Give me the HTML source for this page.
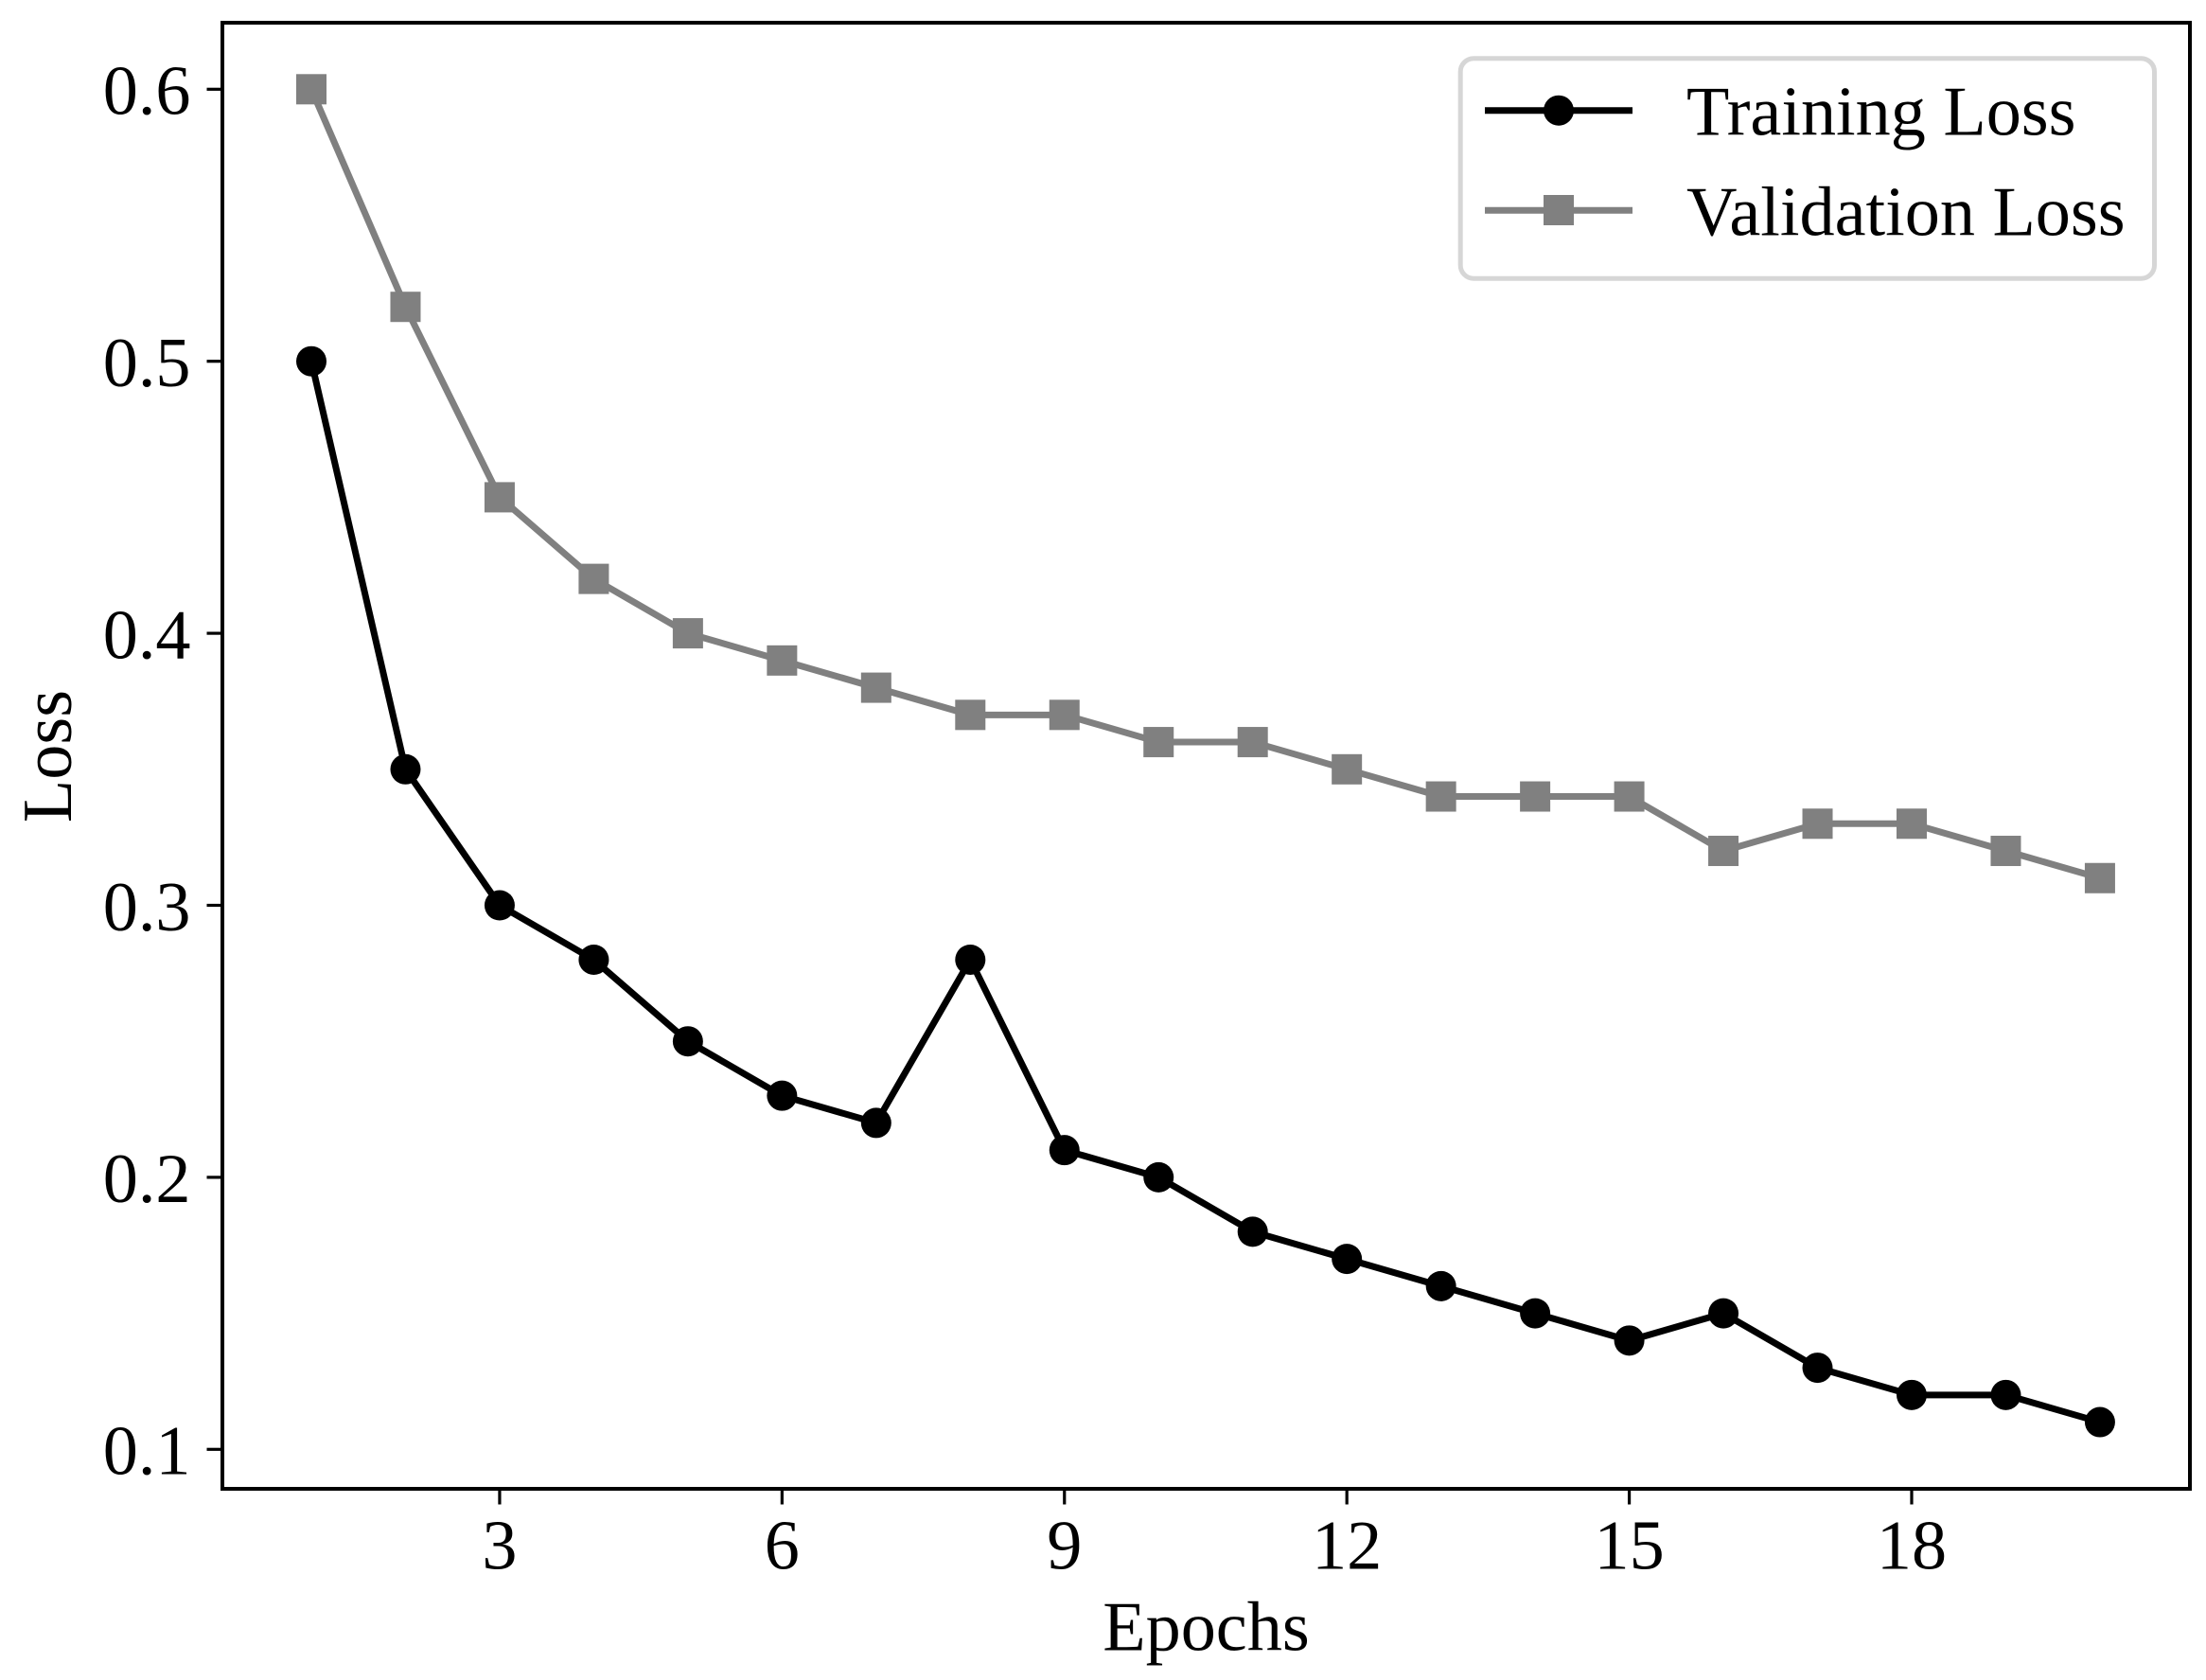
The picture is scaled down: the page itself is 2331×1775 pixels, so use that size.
<!DOCTYPE html>
<html lang="en">
<head>
<meta charset="utf-8">
<title>Training and Validation Loss</title>
<style>
html,body{margin:0;padding:0;background:#fff;}
body{width:2331px;height:1775px;overflow:hidden;}
svg{display:block;}
text{font-family:"Liberation Serif","Times New Roman",serif;font-size:74.2px;fill:#000;}
</style>
</head>
<body>
<svg id="chart" xmlns="http://www.w3.org/2000/svg" width="2331" height="1775" viewBox="0 0 2331 1775">
  <rect x="0" y="0" width="2331" height="1775" fill="#ffffff"/>
  <g id="marks"></g>
  <g id="ticks"></g>
  <rect x="235" y="24" width="2079" height="1549" fill="none" stroke="#000" stroke-width="4"/>
  <text x="1274.5" y="1743.5" text-anchor="middle">Epochs</text>
  <text transform="translate(75,799) rotate(-90)" text-anchor="middle">Loss</text>
  <g>
    <rect x="1543.2" y="61.7" width="733.3" height="232.5" rx="14" ry="14" fill="#ffffff" stroke="#d6d6d6" stroke-width="5"/>
    <g>
      <line x1="1569" y1="116.7" x2="1725" y2="116.7" stroke="#000" stroke-width="7"/>
      <circle cx="1647" cy="116.7" r="16" fill="#000"/>
      <text x="1782" y="142.7">Training Loss</text>
    </g>
    <g>
      <line x1="1569" y1="222.2" x2="1725" y2="222.2" stroke="#808080" stroke-width="7"/>
      <rect x="1631" y="206" width="32" height="32" fill="#808080"/>
      <text x="1782" y="248.3">Validation Loss</text>
    </g>
  </g>
</svg>
<script>
const epochs = [1,2,3,4,5,6,7,8,9,10,11,12,13,14,15,16,17,18,19,20];
const trainingLoss = [0.5,0.35,0.3,0.28,0.25,0.23,0.22,0.28,0.21,0.2,0.18,0.17,0.16,0.15,0.14,0.15,0.13,0.12,0.12,0.11];
const validationLoss = [0.6,0.52,0.45,0.42,0.4,0.39,0.38,0.37,0.37,0.36,0.36,0.35,0.34,0.34,0.34,0.32,0.33,0.33,0.32,0.31];
const xTickValues = [3,6,9,12,15,18];
const yTickValues = [0.1,0.2,0.3,0.4,0.5,0.6];

const NS = 'http://www.w3.org/2000/svg';
function xScale(v){ return 329 + (v - 1) * 99.47; }
function yScale(v){ return 1531.3 - (v - 0.1) * 2874; }
function make(tag, attrs, parent){
  const el = document.createElementNS(NS, tag);
  for (const k in attrs) el.setAttribute(k, attrs[k]);
  parent.appendChild(el);
  return el;
}
const marks = document.getElementById('marks');
const ticks = document.getElementById('ticks');

// Validation series
const valPts = epochs.map(function(e,i){ return xScale(e).toFixed(2) + ',' + yScale(validationLoss[i]).toFixed(2); }).join(' ');
const valLine = make('polyline', {points: valPts, fill:'none', stroke:'#808080', 'stroke-width':7, 'stroke-linejoin':'round'}, marks);


epochs.forEach(function(e,i){
  const m = make('rect', {x: xScale(e) - 16, y: yScale(validationLoss[i]) - 16, width: 32, height: 32, fill:'#808080'}, marks);
  
  
});

// Training series
const trainPts = epochs.map(function(e,i){ return xScale(e).toFixed(2) + ',' + yScale(trainingLoss[i]).toFixed(2); }).join(' ');
const trainLine = make('polyline', {points: trainPts, fill:'none', stroke:'#000000', 'stroke-width':7, 'stroke-linejoin':'round'}, marks);


epochs.forEach(function(e,i){
  const m = make('circle', {cx: xScale(e), cy: yScale(trainingLoss[i]), r: 16, fill:'#000000'}, marks);
  
  
});

// X ticks
xTickValues.forEach(function(v){
  const px = xScale(v);
  const t = make('line', {x1: px, y1: 1575, x2: px, y2: 1589.5, stroke:'#000', 'stroke-width':3.2}, ticks);
  
  
  const l = make('text', {x: px, y: 1657.3, 'text-anchor':'middle'}, ticks);
  
  
  l.textContent = String(v);
});

// Y ticks
yTickValues.forEach(function(v){
  const py = yScale(v);
  const t = make('line', {x1: 218.5, y1: py, x2: 233, y2: py, stroke:'#000', 'stroke-width':3.2}, ticks);
  
  
  const l = make('text', {x: 201.5, y: py + 26.3, 'text-anchor':'end'}, ticks);
  
  
  l.textContent = v.toFixed(1);
});
</script>
</body>
</html>
